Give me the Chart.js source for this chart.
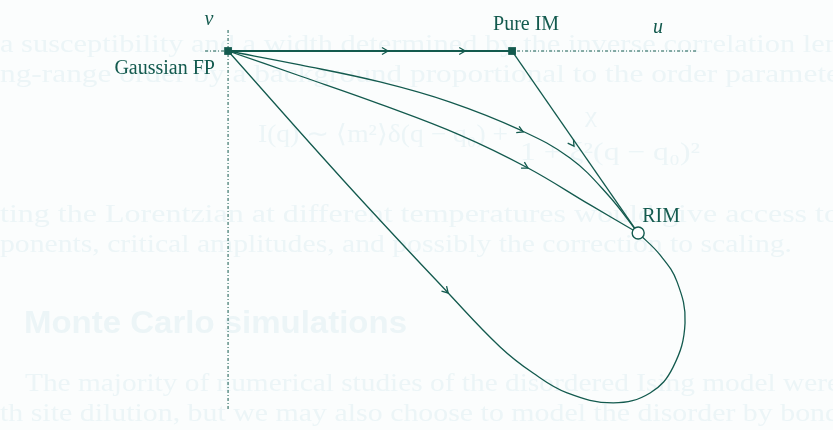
<!DOCTYPE html>
<html>
<head>
<meta charset="utf-8">
<script src="https://cdn.jsdelivr.net/npm/chart.js@4.4.0/dist/chart.umd.min.js"></script>
<style>
  html, body { margin: 0; padding: 0; background: #fbfdfd; }
  #wrap { width: 833px; height: 430px; position: relative; }
</style>
</head>
<body>
<div id="wrap"><canvas id="flowChart"></canvas></div>
<script>
// RG flow in the (u, v) plane; u measured so that the pure Ising point sits at u = 1
const uAxis = [[-0.081, 0], [1.651, 0]];
const vAxis = [[0, 0.074], [0, -1.264]];

const gaussianFP = [0, 0];
const pureIM = [1, 0];
const rim = [1.444, -0.641];

const flowGaussToPure = [[0, 0], [1, 0]];
const flowPureToRim = [[1, 0], [1.444, -0.641]];
const flowUpper = [[0, 0], [0.254, -0.049], [0.535, -0.109], [0.782, -0.180], [1.028, -0.278], [1.204, -0.377], [1.338, -0.507], [1.444, -0.641]];
const flowLower = [[0, 0], [0.254, -0.088], [0.535, -0.187], [0.817, -0.296], [1.056, -0.412], [1.275, -0.542], [1.444, -0.641]];
const flowLoop = [[0, 0], [0.405, -0.454], [0.775, -0.852], [0.958, -1.042], [1.074, -1.134], [1.194, -1.204],
  [1.356, -1.239], [1.486, -1.204], [1.567, -1.113], [1.609, -0.958], [1.581, -0.813], [1.521, -0.718],
  [1.444, -0.641]];

// arrow heads: position and direction of flow
const arrowAt = [[0.563, 0], [0.835, 0], [1.218, -0.335], [1.039, -0.285], [1.056, -0.412], [0.775, -0.852]];
const arrowDir = [[1, 0], [1, 0], [0.444, -0.641], [1, -0.45], [1, -0.55], [1, -1.05]];

const pointLabels = ['v', 'Gaussian FP', 'Pure IM', 'u', 'RIM'];
const labelAt = [[-0.067, 0.092], [-0.046, -0.081], [0.933, 0.074], [1.514, 0.063], [1.458, -0.602]];

const ink = '#135a4e';
const pts = arr => arr.map(p => ({ x: p[0], y: p[1] }));

// faint text showing through from the page
const ghostLines = [
  { t: 'a susceptibility and a width determined by the inverse correlation len', x: 0, y: 52, w: 840, f: '25px "Liberation Serif"' },
  { t: 'ng-range order by a background proportional to the order paramete', x: 0, y: 82, w: 840, f: '25px "Liberation Serif"' },
  { t: 'I(q) \u223C \u27E8m\u00B2\u27E9\u03B4(q \u2212 q\u2080) +', x: 258, y: 142, w: 250, f: '25px "Liberation Serif"' },
  { t: '\u03C7', x: 585, y: 122, w: 12, f: '22px "Liberation Serif"' },
  { t: '1 + \u03BE\u00B2(q \u2212 q\u2080)\u00B2', x: 520, y: 160, w: 180, f: '25px "Liberation Serif"' },
  { t: 'ting the Lorentzian at different temperatures would give access to', x: 0, y: 222, w: 840, f: '25px "Liberation Serif"' },
  { t: 'ponents, critical amplitudes, and possibly the correction to scaling.', x: 0, y: 252, w: 792, f: '25px "Liberation Serif"' },
  { t: 'Monte Carlo simulations', x: 24, y: 333, w: 383, f: 'bold 31px "Liberation Sans"' },
  { t: 'The majority of numerical studies of the disordered Ising model were', x: 25, y: 391, w: 815, f: '25px "Liberation Serif"' },
  { t: 'th site dilution, but we may also choose to model the disorder by bond', x: 0, y: 421, w: 840, f: '25px "Liberation Serif"' }
];

const ghostText = {
  id: 'ghostText',
  beforeDraw(chart) {
    const ctx = chart.ctx;
    ctx.save();
    ctx.fillStyle = '#fbfdfd';
    ctx.fillRect(0, 0, chart.width, chart.height);
    ctx.fillStyle = '#ecf5f7';
    ctx.textBaseline = 'alphabetic';
    ghostLines.forEach(l => {
      ctx.font = l.f;
      const m = ctx.measureText(l.t).width;
      ctx.save();
      ctx.translate(l.x, l.y);
      ctx.scale(l.w / m, 1);
      ctx.fillText(l.t, 0, 0);
      ctx.restore();
    });
    ctx.restore();
  }
};

const flowMarks = {
  id: 'flowMarks',
  afterDatasetsDraw(chart) {
    const ctx = chart.ctx;
    const xs = chart.scales.x, ys = chart.scales.y;
    ctx.save();
    ctx.strokeStyle = ink;
    ctx.lineWidth = 1.3;
    arrowAt.forEach((a, i) => {
      const px = xs.getPixelForValue(a[0]), py = ys.getPixelForValue(a[1]);
      const qx = xs.getPixelForValue(a[0] + arrowDir[i][0]), qy = ys.getPixelForValue(a[1] + arrowDir[i][1]);
      const ang = Math.atan2(qy - py, qx - px);
      ctx.save();
      ctx.translate(px, py);
      ctx.rotate(ang);
      ctx.beginPath();
      ctx.moveTo(-6, -3.5);
      ctx.lineTo(0, 0);
      ctx.lineTo(-6, 3.5);
      ctx.stroke();
      ctx.restore();
    });
    ctx.fillStyle = ink;
    ctx.textBaseline = 'alphabetic';
    pointLabels.forEach((t, i) => {
      const px = xs.getPixelForValue(labelAt[i][0]), py = ys.getPixelForValue(labelAt[i][1]);
      const italic = (t === 'u' || t === 'v');
      ctx.font = (italic ? 'italic ' : '') + '20px "Liberation Serif"';
      ctx.textAlign = italic ? 'center' : (t === 'Gaussian FP' ? 'right' : 'left');
      ctx.fillText(t, px, py);
    });
    ctx.restore();
  }
};

const line = (data, extra) => Object.assign({
  data: pts(data), showLine: true, borderColor: ink, borderWidth: 1.3,
  pointRadius: 0, tension: 0, fill: false
}, extra || {});

new Chart(document.getElementById('flowChart'), {
  type: 'scatter',
  data: {
    datasets: [
      { data: pts([gaussianFP, pureIM]), pointStyle: 'rect', pointRadius: 5.5, backgroundColor: ink, borderColor: ink, borderWidth: 0, showLine: false },
      { data: pts([rim]), pointStyle: 'circle', pointRadius: 6, backgroundColor: '#ffffff', borderColor: ink, borderWidth: 1.4, showLine: false },
      line(flowGaussToPure, { borderWidth: 2.2 }),
      line(flowPureToRim),
      line(flowUpper, { tension: 0.4 }),
      line(flowLower, { tension: 0.4 }),
      line(flowLoop, { tension: 0.4 }),
      line(uAxis, { borderWidth: 1, borderDash: [3, 2, 1, 2] }),
      line(vAxis, { borderWidth: 1, borderDash: [3, 2, 1, 2] })
    ]
  },
  options: {
    responsive: true,
    maintainAspectRatio: false,
    animation: false,
    layout: { padding: 0, autoPadding: false },
    plugins: { legend: { display: false }, tooltip: { enabled: false } },
    scales: {
      x: { type: 'linear', min: -0.803, max: 2.130, display: false },
      y: { type: 'linear', min: -1.3345, max: 0.1796, display: false }
    }
  },
  plugins: [ghostText, flowMarks]
});
</script>
</body>
</html>
